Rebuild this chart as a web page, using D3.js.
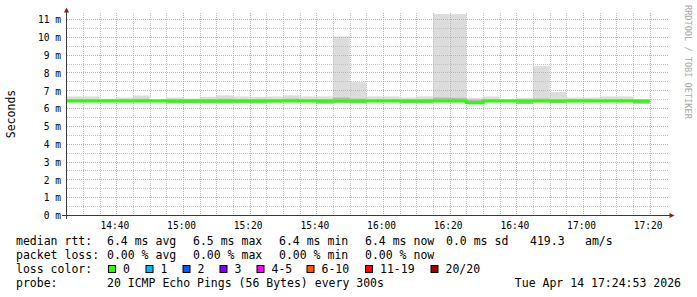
<!DOCTYPE html>
<html lang="en">
<head>
<meta charset="UTF-8">
<script src="https://cdn.jsdelivr.net/npm/d3@7"></script>
<title>SmokePing - median rtt</title>
<style>
    body { margin: 0; background: #fff; }
    text { font-family: 'DejaVu Sans Mono', monospace; fill: #000; }
</style>
</head>
<body>
<svg id="chart" width="697" height="297"></svg>
<script>
    // 5 minute bins, 20 pings each (ms)
    const binStart = ["14:25","14:30","14:35","14:40","14:45","14:50","14:55","15:00","15:05","15:10",
                      "15:15","15:20","15:25","15:30","15:35","15:40","15:45","15:50","15:55","16:00",
                      "16:05","16:10","16:15","16:20","16:25","16:30","16:35","16:40","16:45","16:50",
                      "16:55","17:00","17:05","17:10","17:15"];
    const medianRtt = [6.43,6.43,6.43,6.43,6.43,6.43,6.43,6.43,6.43,6.43,
                       6.43,6.43,6.43,6.43,6.43,6.43,6.43,6.43,6.43,6.43,
                       6.43,6.43,6.43,6.43,6.33,6.43,6.43,6.43,6.43,6.43,
                       6.43,6.43,6.43,6.43,6.43];
    const smokeMax = [6.68,6.68,6.56,6.62,6.73,6.52,6.62,6.57,6.66,6.74,
                      6.68,6.66,6.68,6.74,6.68,6.68,10.05,7.48,6.68,6.68,
                      6.62,6.68,11.3,11.3,6.6,6.68,6.52,6.6,8.38,6.92,
                      6.62,6.62,6.68,6.68,6.52];
    const smokeMin = [6.38,6.38,6.38,6.38,6.38,6.40,6.27,6.28,6.27,6.27,
                      6.30,6.27,6.33,6.36,6.36,6.26,6.32,6.28,6.36,6.36,
                      6.27,6.27,6.36,6.36,6.30,6.38,6.38,6.24,6.36,6.30,
                      6.38,6.38,6.38,6.36,6.26];
    const smokeHi  = [6.52,6.52,6.52,6.52,6.55,6.50,6.52,6.50,6.52,6.55,
                      6.52,6.52,6.52,6.56,6.52,6.52,6.62,6.56,6.52,6.52,
                      6.52,6.52,6.62,6.60,6.50,6.52,6.50,6.50,6.56,6.52,
                      6.52,6.52,6.52,6.52,6.50];
    const smokeLo  = [6.40,6.40,6.40,6.40,6.40,6.40,6.29,6.30,6.30,6.29,
                      6.33,6.29,6.36,6.38,6.38,6.28,6.34,6.30,6.38,6.38,
                      6.30,6.30,6.38,6.38,6.32,6.40,6.40,6.26,6.38,6.32,
                      6.40,6.40,6.40,6.38,6.28];

    const yMajor = [1,2,3,4,5,6,7,8,9,10,11];
    const yLabels = [0,1,2,3,4,5,6,7,8,9,10,11];
    const xLabels = ["14:40","15:00","15:20","15:40","16:00","16:20","16:40","17:00","17:20"];

    const lossLabels = ["0","1","2","3","4-5","6-10","11-19","20/20"];
    const lossColors = ["#26ff00","#00b8ff","#0059ff","#7e00ff","#ff00ff","#ff5500","#ff0000","#a10000"];
    const lossBoxX = [108,145.5,182.5,219.5,256.5,306.5,365,430.5];

    const rttLegend = [["median rtt:",16],["6.4 ms avg",107],["6.5 ms max",193],["6.4 ms min",279],
                       ["6.4 ms now",365],["0.0 ms sd",446],["419.3",530],["am/s",585]];
    const lossLegend = [["packet loss:",16],["0.00 % avg",107],["0.00 % max",193],["0.00 % min",279],["0.00 % now",365]];

    const parse = d3.timeParse("%Y-%m-%d %H:%M:%S");
    const day = "2026-04-14 ";
    const t0 = parse(day + "14:24:53");
    const t1 = parse(day + "17:24:53");
    const step = 5 * 60 * 1000;

    const bins = binStart.map((s, i) => {
        const start = parse(day + s + ":00");
        return {
            start: start,
            end: new Date(+start + step),
            med: medianRtt[i],
            max: smokeMax[i], min: smokeMin[i],
            hi: smokeHi[i], lo: smokeLo[i]
        };
    });

    const svg = d3.select("#chart");
    const x = d3.scaleTime().domain([t0, t1]).range([66, 666]);
    const y = d3.scaleLinear().domain([0, 11.34]).range([215.5, 13.4]);
    const px = v => Math.round(x(v)) + 0.5;
    const py = v => Math.floor(y(v)) + 0.5;

    // smoke
    svg.append("g").selectAll("rect")
        .data(bins)
        .enter().append("rect")
        .attr("x", d => x(d.start))
        .attr("width", d => x(d.end) - x(d.start))
        .attr("y", d => y(d.max))
        .attr("height", d => y(d.min) - y(d.max))
        .attr("fill", "#dcdcdc");

    svg.append("g").selectAll("rect")
        .data(bins)
        .enter().append("rect")
        .attr("x", d => x(d.start))
        .attr("width", d => x(d.end) - x(d.start))
        .attr("y", d => y(d.hi))
        .attr("height", d => y(d.lo) - y(d.hi))
        .attr("fill", "#b4b4b4");

    // grid
    const minorT = d3.timeMinute.every(5).range(t0, t1);
    const majorT = d3.timeMinute.every(20).range(t0, t1);
    const grid = svg.append("g").attr("stroke-width", 1).attr("stroke-dasharray", "1,1").attr("fill", "none");

    grid.selectAll("line.vmin")
        .data(minorT.filter(t => t.getMinutes() % 20 !== 0))
        .enter().append("line")
        .attr("x1", px).attr("x2", px)
        .attr("y1", 13).attr("y2", 215)
        .attr("stroke", "#c4c4c4");

    grid.selectAll("line.hmin")
        .data(d3.range(0.5, 11.34, 1))
        .enter().append("line")
        .attr("x1", 67).attr("x2", 668)
        .attr("y1", py).attr("y2", py)
        .attr("stroke", "#c4c4c4");

    grid.selectAll("line.vmaj")
        .data(majorT)
        .enter().append("line")
        .attr("x1", px).attr("x2", px)
        .attr("y1", 13).attr("y2", 215)
        .attr("stroke", "#e6a0a0");

    grid.selectAll("line.hmaj")
        .data(yMajor)
        .enter().append("line")
        .attr("x1", 67).attr("x2", 668)
        .attr("y1", py).attr("y2", py)
        .attr("stroke", "#e6a0a0");

    // median line, coloured by loss (all 0 here)
    const medPts = bins.map(d => [d.start, d.med]);
    medPts.push([bins[bins.length - 1].end, bins[bins.length - 1].med]);
    const medLine = d3.line()
        .x(d => x(d[0]))
        .y(d => y(d[1]))
        .curve(d3.curveStepAfter);

    svg.append("path")
        .datum(medPts)
        .attr("d", medLine)
        .attr("fill", "none")
        .attr("stroke", lossColors[0])
        .attr("stroke-width", 3);

    // axes
    const axisCol = "#3a3a3a";
    const arrowCol = "#8a1c1c";
    svg.append("line")
        .attr("x1", 66.5).attr("x2", 66.5)
        .attr("y1", 219).attr("y2", 12)
        .attr("stroke", axisCol);
    svg.append("line")
        .attr("x1", 62).attr("x2", 670)
        .attr("y1", 215.5).attr("y2", 215.5)
        .attr("stroke", axisCol);
    svg.append("path")
        .attr("d", "M64,12.5 L66.5,7.5 L69,12.5 Z")
        .attr("fill", arrowCol);
    svg.append("path")
        .attr("d", "M669.5,213 L674.5,215.5 L669.5,218 Z")
        .attr("fill", arrowCol);

    // y tick labels
    svg.append("g").selectAll("text")
        .data(yLabels)
        .enter().append("text")
        .attr("x", 61)
        .attr("y", d => y(d) + 3.8)
        .attr("text-anchor", "end")
        .attr("font-size", "9.6px")
        .text(d => d + " m");

    // x tick labels
    svg.append("g").selectAll("text")
        .data(xLabels)
        .enter().append("text")
        .attr("x", d => x(parse(day + d + ":00")) - 1.5)
        .attr("y", 228.5)
        .attr("text-anchor", "middle")
        .attr("font-size", "9.6px")
        .text(d => d);

    // axis title
    svg.append("text")
        .attr("transform", "translate(15,114) rotate(-90)")
        .attr("text-anchor", "middle")
        .attr("font-size", "11.5px")
        .text("Seconds");

    // watermark
    svg.append("text")
        .attr("transform", "translate(684.5,5) rotate(90)")
        .attr("font-size", "8.6px")
        .style("fill", "#a8a8a8")
        .text("RRDTOOL / TOBI OETIKER");

    // legend
    const legend = svg.append("g").attr("font-size", "11.5px");
    legend.selectAll("text.rtt")
        .data(rttLegend)
        .enter().append("text")
        .attr("x", d => d[1]).attr("y", 245)
        .text(d => d[0]);
    legend.selectAll("text.loss")
        .data(lossLegend)
        .enter().append("text")
        .attr("x", d => d[1]).attr("y", 259)
        .text(d => d[0]);
    legend.append("text").attr("x", 16).attr("y", 273).text("loss color:");
    legend.selectAll("rect")
        .data(lossLabels)
        .enter().append("rect")
        .attr("x", (d, i) => lossBoxX[i] + 0.5)
        .attr("y", 265.5)
        .attr("width", 7).attr("height", 7)
        .attr("fill", (d, i) => lossColors[i])
        .attr("stroke", "#000");
    legend.selectAll("text.lc")
        .data(lossLabels)
        .enter().append("text")
        .attr("x", (d, i) => lossBoxX[i] + 15)
        .attr("y", 273)
        .text(d => d);
    legend.append("text").attr("x", 16).attr("y", 287).text("probe:");
    legend.append("text").attr("x", 107).attr("y", 287).text("20 ICMP Echo Pings (56 Bytes) every 300s");
    legend.append("text").attr("x", 681).attr("y", 287).attr("text-anchor", "end").text("Tue Apr 14 17:24:53 2026");
</script>
</body>
</html>
